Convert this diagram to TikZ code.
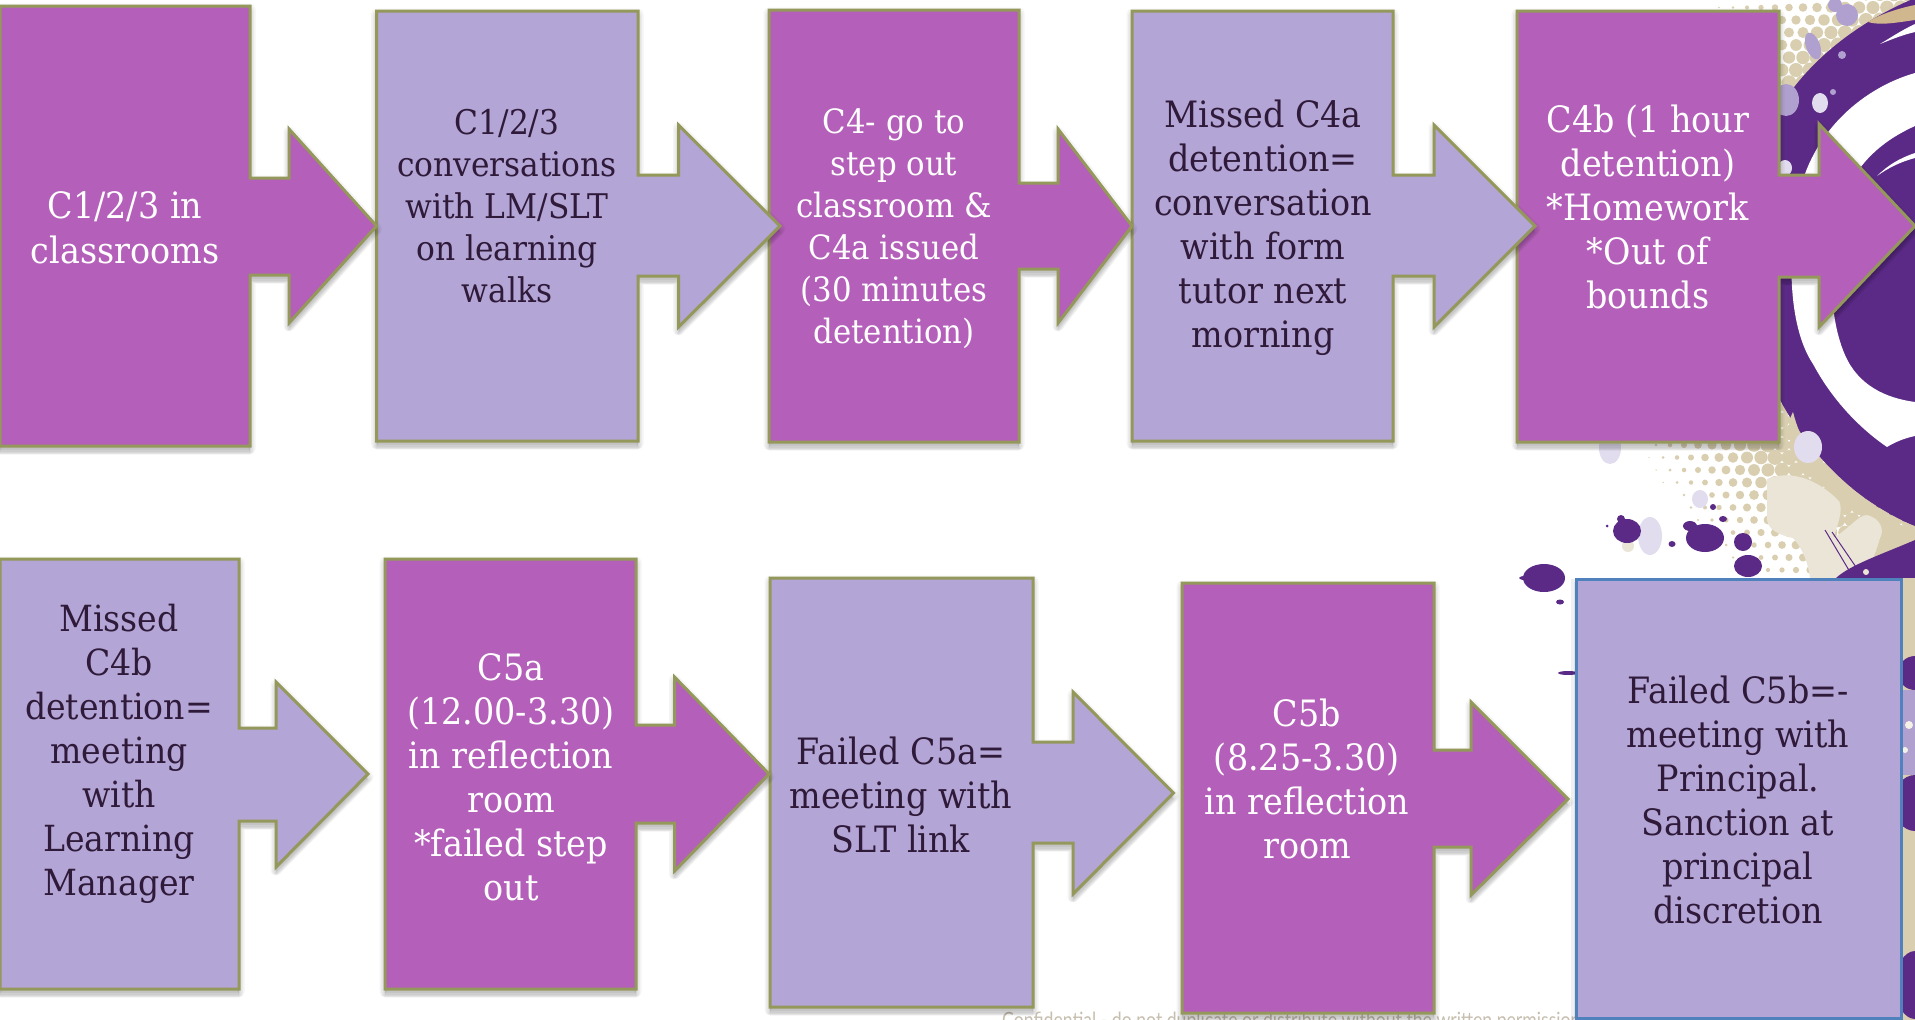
\documentclass[tikz,border=0pt]{standalone}
\usepackage{fontspec}
\setmainfont{DejaVu Serif}[FakeStretch=0.92]
\newfontfamily\conf{Lato}[FakeStretch=0.84]
\definecolor{mag}{HTML}{B45FB9}
\definecolor{lav}{HTML}{B3A5D5}
\definecolor{oli}{HTML}{94985A}
\definecolor{pur}{HTML}{5B2A86}
\definecolor{tan1}{HTML}{D9CFB0}
\definecolor{crm}{HTML}{EBE5D8}
\definecolor{pale}{HTML}{E2DCEF}
\definecolor{ink}{HTML}{2F1A3A}
\definecolor{blu}{HTML}{4F81BD}
\definecolor{lav2}{HTML}{B0A0CF}
\definecolor{foot}{HTML}{C6BEAE}
\tikzset{
  shapeline/.style={line width=3pt,draw=oli,line join=miter,miter limit=4},
  magbox/.style={fill=mag},
  lavbox/.style={fill=lav},
  wtext/.style 2 args={text=white,align=center,inner sep=0pt,font=\fontsize{#1}{#2}\selectfont},
  dtext/.style 2 args={text=ink,align=center,inner sep=0pt,font=\fontsize{#1}{#2}\selectfont},
  splat/.style={fill=pur,draw=none},
  bubble/.style={fill=pale,draw=none},
  softlav/.style={fill=lav2,draw=none},
}
% box x0 x1 y0 y1, shaft s0 s1, head hx h0 h1, tip tx ty, style
\def\cp#1#2#3#4#5#6#7#8#9{\def\xa{#1}\def\xb{#2}\def\ya{#3}\def\yb{#4}\def\sa{#5}\def\sb{#6}\def\hx{#7}\def\ha{#8}\def\hb{#9}\cpb}
\def\thepath{(\xa,\ya) -- (\xb,\ya) -- (\xb,\sa) -- (\hx,\sa) -- (\hx,\ha) -- (\tx,\ty) -- (\hx,\hb) -- (\hx,\sb) -- (\xb,\sb) -- (\xb,\yb) -- (\xa,\yb) -- cycle}
\def\cpb#1#2#3{\def\tx{#1}\def\ty{#2}
  \foreach \lw/\sh in {11/3,8/4,5/5,2/6}{
    \path[draw=black,fill=black,opacity=.04,line width=\lw pt,line join=round,shift={(0,\sh)}] \thepath;}
  \path[shapeline,#3] \thepath;}
\begin{document}
\begin{tikzpicture}[x=1pt,y=-1pt]
\useasboundingbox (0,0) rectangle (1915,1020);
\clip (0,0) rectangle (1915,1020);
\fill[white] (0,0) rectangle (1915,1020);

% footer line, cut by the page edge
\node[anchor=base west,inner sep=0pt,text=foot,font=\conf\fontsize{21}{21}\selectfont] (conf) at (1002,1027)
  {Confidential - do not duplicate or distribute without the written permission};

% halftone dots
\foreach \ix in {0,...,24}{
  \foreach \iy in {0,...,48}{
    \pgfmathsetmacro{\px}{1600+\ix*14+mod(\iy,2)*7}
    \pgfmathsetmacro{\py}{-5+\iy*12.5}
    \pgfmathsetmacro{\dd}{veclen(\px-2000,\py-280)}
    \pgfmathsetmacro{\rr}{min(7.5,(405-\dd)/16)}
    \pgfmathparse{\rr>0.7 ? 1 : 0}
    \ifnum\pgfmathresult=1
      \fill[tan1] (\px,\py) circle (\rr);
    \fi
  }
}

% purple swirl
\fill[pur] (1915,-2) .. controls (1863,20) and (1813,55) .. (1780,107)
  .. controls (1745,190) and (1745,330) .. (1780,400)
  .. controls (1810,455) and (1860,505) .. (1915,526) -- cycle;
% white crescent
\fill[white] (1915,73) .. controls (1863,88) and (1815,130) .. (1800,190)
  .. controls (1785,260) and (1790,330) .. (1813,364)
  .. controls (1835,405) and (1865,432) .. (1887,447)
  .. controls (1895,442) and (1905,438) .. (1915,436)
  -- (1915,402) .. controls (1885,398) and (1858,385) .. (1845,355)
  .. controls (1825,310) and (1825,220) .. (1860,168)
  .. controls (1875,148) and (1895,135) .. (1915,126) -- cycle;
\fill[white] (1877,176) .. controls (1888,165) and (1900,158) .. (1915,153) -- (1915,158) .. controls (1900,162) and (1888,168) .. (1877,176) -- cycle;
\fill[white] (1880,44) .. controls (1890,38) and (1902,30) .. (1915,24) -- (1915,32) .. controls (1902,35) and (1890,40) .. (1880,44) -- cycle;
\fill[tan1!70!brown] (1868,22) .. controls (1880,14) and (1900,8) .. (1915,5) -- (1915,20) .. controls (1900,22) and (1880,26) .. (1868,22) -- cycle;

% cream and tan splashes
\fill[tan1] (1793,412) .. controls (1800,440) and (1812,455) .. (1822,468) .. controls (1850,495) and (1885,520) .. (1915,535) -- (1915,545) .. controls (1880,530) and (1835,500) .. (1800,465) .. controls (1790,445) and (1785,425) .. (1793,412) -- cycle;
\draw[tan1,line width=6pt,dash pattern=on 12pt off 3pt] (1800,440) .. controls (1830,480) and (1870,510) .. (1915,530);
\fill[tan1] (1873,534) -- (1915,530) -- (1915,578) -- (1880,578) -- cycle;
\fill[crm] (1767,479) .. controls (1790,470) and (1815,478) .. (1837,499)
  .. controls (1845,505) and (1838,525) .. (1833,538)
  .. controls (1848,530) and (1858,515) .. (1867,515)
  .. controls (1880,518) and (1885,530) .. (1880,538)
  .. controls (1875,555) and (1870,565) .. (1867,578) -- (1810,578)
  .. controls (1808,560) and (1800,545) .. (1793,538)
  .. controls (1780,535) and (1765,530) .. (1767,515) -- cycle;

% lower purple band
\fill[pur] (1836,578) .. controls (1850,565) and (1880,555) .. (1915,540) -- (1915,578) -- cycle;
\draw[pur,line width=1pt] (1825,530) -- (1850,572);
\draw[pur,line width=1pt] (1832,532) -- (1858,570);
\fill[crm] (1866,572) circle (3);

% right edge beside the last box
\fill[tan1] (1898,578) rectangle (1915,1020);
\fill[softlav] (1898,690) rectangle (1915,775);
\fill[pur] (1915,673) circle (17);
\fill[pur] (1915,803) ellipse (22 and 28);
\fill[pur] (1915,985) ellipse (20 and 34);
\fill[white!70!tan1] (1909,725) circle (4);
\fill[white!70!tan1] (1905,750) circle (3);

% bubbles and splatter
\fill[softlav] (1847,15) circle (11);
\fill[softlav] (1835,5) circle (7);
\fill[softlav,rotate around={20:(1813,46)}] (1813,46) ellipse (7 and 14);
\fill[softlav] (1842,55) circle (4);
\fill[softlav] (1786,100) ellipse (13 and 16);
\fill[bubble] (1820,103) ellipse (8 and 10);
\fill[softlav] (1833,92) circle (3);
\fill[bubble] (1785,168) ellipse (7 and 8);
\fill[bubble] (1808,447) ellipse (14 and 16);
\fill[bubble] (1610,448) ellipse (11 and 16);
\fill[bubble] (1700,499) ellipse (8 and 9);
\fill[crm] (1628,546) circle (6);
\fill[bubble] (1650,536) ellipse (12 and 19);
\fill[splat] (1627,531) ellipse (14 and 12);
\fill[splat] (1621,519) circle (4);
\fill[splat] (1607,526) circle (1.5);
\fill[splat] (1705,538) ellipse (19 and 14);
\fill[splat] (1690,526) ellipse (7 and 5);
\fill[splat] (1743,542) ellipse (9 and 9);
\fill[splat] (1748,566) ellipse (14 and 11);
\fill[splat] (1713,507) circle (3);
\fill[splat] (1723,519) ellipse (4 and 3);
\fill[splat] (1672,544) ellipse (3.5 and 3);
\fill[splat] (1544,578) ellipse (21 and 14);
\fill[splat] (1525,578) ellipse (6 and 2);
\fill[splat] (1560,602) ellipse (4 and 2.5);
\fill[splat] (1568,673) ellipse (10 and 2);

% shapes, last first so that each arrow tip lies over the next box
\path[draw=black,fill=black,opacity=.06,line width=6pt,shift={(-2,3)}] (1576,579) rectangle (1901,1018);
\path[draw=blu,fill=lav,line width=3pt] (1576,579) rectangle (1901,1018);
\cp{1182}{1434}{583}{1013}{750}{847}{1471}{702}{895}{1568}{799}{magbox}
\cp{770}{1033}{578}{1007}{742}{843}{1073}{692}{894}{1173.5}{793}{lavbox}
\cp{385}{636}{559}{989}{725}{823}{674.5}{677}{871}{769}{774}{magbox}
\cp{0}{239}{559}{989}{728}{821}{276}{682}{867}{368}{774}{lavbox}
\cp{1517}{1779}{11}{442}{175}{277}{1819}{124}{327}{1915}{226}{magbox}
\cp{1132}{1393}{11}{441}{175}{276}{1434}{125}{327}{1535}{226}{lavbox}
\cp{769}{1019}{10}{442}{183}{269}{1058}{129}{323}{1132}{226}{magbox}
\cp{376.5}{638}{11}{441}{175}{276}{678.5}{125}{327}{780}{226}{lavbox}
\cp{0}{250}{6}{446}{178}{275}{289}{129}{323}{376.5}{226}{magbox}

% labels
\node[wtext={36.3}{45}] (a) at (125,228) {C1/2/3 in\\classrooms};
\node[dtext={34}{42}] (b) at (507,206) {C1/2/3\\conversations\\with LM/SLT\\on learning\\walks};
\node[wtext={33.5}{42}] (c) at (894,229) {C4- go to\\step out\\classroom \&\\C4a issued\\(30 minutes\\detention)};
\node[dtext={36.3}{44}] (d) at (1263,228) {Missed C4a\\detention=\\conversation\\with form\\tutor next\\morning};
\node[wtext={36.3}{44}] (e) at (1648,207) {C4b (1 hour\\detention)\\*Homework\\*Out of\\bounds};
\node[dtext={36}{44}] (f) at (119,754) {Missed\\C4b\\detention=\\meeting\\with\\Learning\\Manager};
\node[wtext={36.3}{44}] (g) at (511,777) {C5a\\(12.00-3.30)\\in reflection\\room\\*failed step\\out};
\node[dtext={36.3}{44}] (h) at (901,795) {Failed C5a=\\meeting with\\SLT link};
\node[wtext={36.3}{44}] (i) at (1307,779) {C5b\\(8.25-3.30)\\in reflection\\room};
\node[dtext={36.3}{44}] (j) at (1738,800) {Failed C5b=-\\meeting with\\Principal.\\Sanction at\\principal\\discretion};
\end{tikzpicture}
\end{document}
